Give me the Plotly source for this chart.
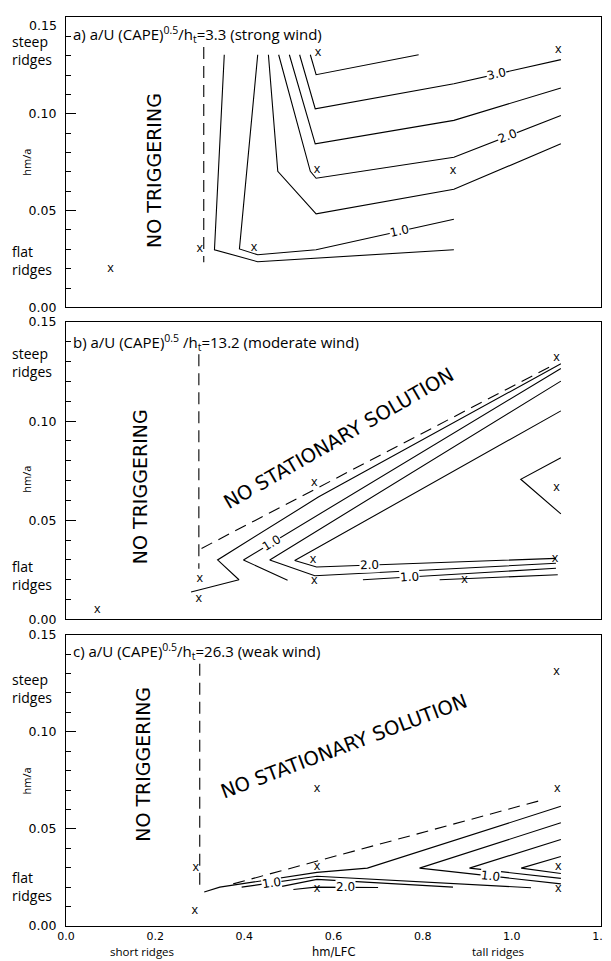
import plotly.graph_objects as go

# ---------------- data ----------------
X_RANGE = [0.0, 1.2]
Y_RANGE = [0.0, 0.15]
Y_TICKS = [0.00, 0.05, 0.10, 0.15]
X_TICKS = [0.0, 0.2, 0.4, 0.6, 0.8, 1.0, 1.2]
X_TICK_LABELS = ["0.0", "0.2", "0.4", "0.6", "0.8", "1.0", "1.2"]
X_SUB_LABELS = ["short ridges", "hm/LFC", "tall ridges"]
X_SUB_POS = [0.171, 0.601, 0.970]

TITLES = [
    "a) a/U (CAPE)<sup>0.5</sup>/h<sub>t</sub>=3.3 (strong wind)",
    "b) a/U (CAPE)<sup>0.5</sup> /h<sub>t</sub>=13.2 (moderate wind)",
    "c) a/U (CAPE)<sup>0.5</sup>/h<sub>t</sub>=26.3 (weak wind)",
]
TITLE_Y = [0.1408, 0.1395, 0.1413]

# panel a: sample points, boundary and contours
A_MARK_X = [0.10, 0.30, 0.422, 0.565, 0.563, 0.868, 1.104]
A_MARK_Y = [0.020, 0.0302, 0.0307, 0.1315, 0.071, 0.0707, 0.1328]
A_VDASH_X = [0.309, 0.309]
A_VDASH_Y = [0.1345, 0.0233]
A_C1_X = [0.355, 0.333, 0.430, 0.870]
A_C1_Y = [0.1305, 0.0298, 0.0236, 0.0298]
A_C2_X = [0.430, 0.389, 0.430, 0.561, 0.870]
A_C2_Y = [0.1305, 0.0302, 0.0272, 0.0298, 0.0455]
A_C3_X = [0.454, 0.475, 0.561, 0.870, 1.110]
A_C3_Y = [0.1305, 0.0703, 0.0483, 0.0610, 0.0845]
A_C4_X = [0.477, 0.548, 0.561, 0.870, 1.110]
A_C4_Y = [0.1305, 0.0703, 0.0667, 0.0776, 0.0991]
A_C5_X = [0.501, 0.559, 0.870, 1.110]
A_C5_Y = [0.1305, 0.0845, 0.0966, 0.1133]
A_C6_X = [0.524, 0.559, 0.870, 1.110]
A_C6_Y = [0.1305, 0.1026, 0.1155, 0.1280]
A_C7_X = [0.548, 0.561, 0.791]
A_C7_Y = [0.1305, 0.1202, 0.1305]
A_LAB_TEXT = ["1.0", "2.0", "3.0"]
A_LAB_X = [0.748, 0.991, 0.965]
A_LAB_Y = [0.0393, 0.0884, 0.1204]
A_LAB_ANG = [-12.6, -21.5, -13.0]

# panel b
B_MARK_X = [0.07, 0.30, 0.298, 0.557, 0.554, 0.557, 0.894, 1.10, 1.10, 1.097]
B_MARK_Y = [0.005, 0.0205, 0.0102, 0.069, 0.0298, 0.0196, 0.0197, 0.132, 0.0665, 0.0307]
B_VDASH_X = [0.298, 0.298]
B_VDASH_Y = [0.1338, 0.0256]
B_DDASH_X = [0.304, 1.096]
B_DDASH_Y = [0.0358, 0.1287]
B_C1_X = [0.2805, 0.388, 0.340, 0.566, 1.110]
B_C1_Y = [0.0138, 0.0200, 0.0300, 0.0617, 0.1290]
B_C2_X = [0.497, 0.398, 1.110]
B_C2_Y = [0.0197, 0.0300, 0.1266]
B_C3_X = [1.110, 0.457, 0.558, 1.099]
B_C3_Y = [0.1202, 0.0300, 0.0220, 0.0283]
B_C4_X = [1.110, 0.513, 0.562, 1.099]
B_C4_Y = [0.1052, 0.0297, 0.0264, 0.0308]
B_C5_X = [0.666, 1.099]
B_C5_Y = [0.0200, 0.0258]
B_C6_X = [0.838, 1.103]
B_C6_Y = [0.0200, 0.0225]
B_C7_X = [1.110, 1.020, 1.110]
B_C7_Y = [0.0815, 0.0707, 0.0532]
B_LAB_TEXT = ["1.0", "2.0", "1.0"]
B_LAB_X = [0.461, 0.681, 0.771]
B_LAB_Y = [0.0386, 0.0274, 0.0214]
B_LAB_ANG = [-31.3, -2.1, -3.4]

# panel c
C_MARK_X = [0.291, 0.289, 0.563, 0.563, 0.563, 1.100, 1.102, 1.104, 1.104]
C_MARK_Y = [0.0298, 0.0079, 0.0707, 0.0303, 0.0190, 0.1307, 0.0707, 0.0303, 0.0190]
C_VDASH_X = [0.300, 0.300]
C_VDASH_Y = [0.135, 0.018]
C_DDASH_X = [0.375, 1.069]
C_DDASH_Y = [0.0217, 0.0649]
C_C1_X = [0.310, 0.345, 0.563, 0.676, 1.110]
C_C1_Y = [0.0175, 0.0200, 0.0276, 0.0298, 0.0616]
C_C2_X = [0.394, 0.497, 0.563, 1.043]
C_C2_Y = [0.0200, 0.0235, 0.0256, 0.0197]
C_C3_X = [0.476, 0.563, 0.868]
C_C3_Y = [0.0200, 0.0240, 0.0200]
C_C4_X = [0.510, 0.560, 0.700]
C_C4_Y = [0.0188, 0.0200, 0.0198]
C_C5_X = [1.110, 0.793, 1.110]
C_C5_Y = [0.0531, 0.0298, 0.0217]
C_C6_X = [1.110, 0.905, 1.110]
C_C6_Y = [0.0445, 0.0298, 0.0245]
C_C7_X = [1.110, 1.021, 1.110]
C_C7_Y = [0.0358, 0.0298, 0.0270]
C_LAB_TEXT = ["1.0", "2.0", "1.0"]
C_LAB_X = [0.461, 0.626, 0.952]
C_LAB_Y = [0.0223, 0.0199, 0.0257]
C_LAB_ANG = [-8.3, 0.0, 6.4]

# region texts
NT_X = [0.196, 0.165, 0.174]
NT_Y = [0.0707, 0.067, 0.0833]
NSS_X = [None, 0.612, 0.623]
NSS_Y = [None, 0.0913, 0.0926]
NSS_ANG = [None, -30.0, -20.7]
STEEP_Y = [0.1325, 0.1295, 0.1225]
FLAT_Y = [0.0244, 0.0222, 0.0201]
HMA_Y = [0.075, 0.0707, 0.0747]

# ---------------- figure ----------------
# The page body has an 8 px margin, so the figure is 8 px smaller than the window
# on each axis and every position below is (page position - 8).
FONT = "Open Sans"
BIG = "DejaVu Sans"
TICKFONT = "DejaVu Sans"
W, H = 603, 953
ML, MR, MT, MB = 57.5, 10, 1, 35
fig = go.Figure()

panels = [
    dict(marks=(A_MARK_X, A_MARK_Y), vdash=(A_VDASH_X, A_VDASH_Y), ddash=None,
         lines=[(A_C1_X, A_C1_Y), (A_C2_X, A_C2_Y), (A_C3_X, A_C3_Y), (A_C4_X, A_C4_Y),
                (A_C5_X, A_C5_Y), (A_C6_X, A_C6_Y), (A_C7_X, A_C7_Y)],
         labs=(A_LAB_TEXT, A_LAB_X, A_LAB_Y, A_LAB_ANG)),
    dict(marks=(B_MARK_X, B_MARK_Y), vdash=(B_VDASH_X, B_VDASH_Y), ddash=(B_DDASH_X, B_DDASH_Y),
         lines=[(B_C1_X, B_C1_Y), (B_C2_X, B_C2_Y), (B_C3_X, B_C3_Y), (B_C4_X, B_C4_Y),
                (B_C5_X, B_C5_Y), (B_C6_X, B_C6_Y), (B_C7_X, B_C7_Y)],
         labs=(B_LAB_TEXT, B_LAB_X, B_LAB_Y, B_LAB_ANG)),
    dict(marks=(C_MARK_X, C_MARK_Y), vdash=(C_VDASH_X, C_VDASH_Y), ddash=(C_DDASH_X, C_DDASH_Y),
         lines=[(C_C1_X, C_C1_Y), (C_C2_X, C_C2_Y), (C_C3_X, C_C3_Y), (C_C4_X, C_C4_Y),
                (C_C5_X, C_C5_Y), (C_C6_X, C_C6_Y), (C_C7_X, C_C7_Y)],
         labs=(C_LAB_TEXT, C_LAB_X, C_LAB_Y, C_LAB_ANG)),
]

domains = [[0.6805, 1.0], [0.3373, 0.6644], [0.0, 0.3206]]
annotations = []
plot_w = W - ML - MR

for i, p in enumerate(panels):
    n = "" if i == 0 else str(i + 1)
    xr, yr = "x" + n, "y" + n
    for lx, ly in p["lines"]:
        fig.add_trace(go.Scatter(x=lx, y=ly, mode="lines", xaxis=xr, yaxis=yr,
                                 line=dict(color="black", width=1.1), hoverinfo="skip"))
    for d in (p["vdash"], p["ddash"]):
        if d is not None:
            fig.add_trace(go.Scatter(x=d[0], y=d[1], mode="lines", xaxis=xr, yaxis=yr,
                                     line=dict(color="black", width=1.1, dash="12px,7px"),
                                     hoverinfo="skip"))
    mx, my = p["marks"]
    fig.add_trace(go.Scatter(x=mx, y=my, mode="text", text=["x"] * len(mx), xaxis=xr, yaxis=yr,
                             textfont=dict(family=FONT, size=12.5, color="black"),
                             textposition="middle center", hoverinfo="skip"))
    t, lx, ly, la = p["labs"]
    for k in range(len(t)):
        annotations.append(dict(x=lx[k], y=ly[k], xref=xr, yref=yr, text=t[k], showarrow=False,
                                textangle=la[k], bgcolor="white", borderpad=0,
                                font=dict(family=TICKFONT, size=12, color="black")))
    annotations.append(dict(x=0.012, y=TITLE_Y[i], xref=xr, yref=yr,
                            text=TITLES[i], showarrow=False, xanchor="left", yanchor="middle",
                            font=dict(family=FONT, size=15, color="black")))
    annotations.append(dict(x=NT_X[i], y=NT_Y[i], xref=xr, yref=yr, text="NO TRIGGERING",
                            showarrow=False, textangle=-90,
                            font=dict(family=BIG, size=19, color="black")))
    if NSS_X[i] is not None:
        annotations.append(dict(x=NSS_X[i], y=NSS_Y[i], xref=xr, yref=yr,
                                text="NO STATIONARY SOLUTION", showarrow=False,
                                textangle=NSS_ANG[i],
                                font=dict(family=BIG, size=19.5, color="black")))
    annotations.append(dict(x=(1.6 - ML) / plot_w, y=STEEP_Y[i], xref="paper", yref=yr,
                            text="steep<br>ridges", showarrow=False, xanchor="left", align="left",
                            font=dict(family=FONT, size=14, color="black")))
    annotations.append(dict(x=(1.6 - ML) / plot_w, y=FLAT_Y[i], xref="paper", yref=yr,
                            text="flat<br>ridges", showarrow=False, xanchor="left", align="left",
                            font=dict(family=FONT, size=14, color="black")))
    annotations.append(dict(x=(8.5 - ML) / plot_w, y=HMA_Y[i], xref="paper", yref=yr, text="hm/a",
                            showarrow=False, textangle=-90,
                            font=dict(family=FONT, size=11, color="black")))

    # top panel: the 0.15 label would sit on the page edge, so it is drawn just below it
    yt = Y_TICKS if i > 0 else Y_TICKS[:-1]
    if i == 0:
        annotations.append(dict(x=-8.5 / plot_w, y=Y_TICKS[-1], xref="paper", yref=yr,
                                text=f"{Y_TICKS[-1]:.2f}", showarrow=False, xanchor="right",
                                yanchor="top", borderpad=0,
                                font=dict(family=TICKFONT, size=12.5, color="black")))

    axis_common = dict(showline=True, linecolor="black", linewidth=1.3, mirror=True,
                       showgrid=False, zeroline=False)
    fig.layout["xaxis" + n] = dict(
        axis_common, range=X_RANGE, domain=[0, 1], anchor=yr,
        tickvals=X_TICKS, ticktext=X_TICK_LABELS,
        showticklabels=(i == 2), ticks="",
        tickfont=dict(family=TICKFONT, size=11, color="black"))
    fig.layout["yaxis" + n] = dict(
        axis_common, range=Y_RANGE, domain=domains[i], anchor=xr,
        tickvals=yt, ticktext=[f"{v:.2f}" for v in yt],
        ticks="inside", ticklen=10, tickwidth=1.1, tickcolor="black",
        ticklabelstandoff=6,
        minor=dict(dtick=0.01, ticks="inside", ticklen=5, tickwidth=1.1, tickcolor="black"),
        tickfont=dict(family=TICKFONT, size=12.5, color="black"))

# row of descriptive labels under the bottom axis, resting on the page edge
sub_y = -(MB - 0.3) / (H - MT - MB)
for txt, xv in zip(X_SUB_LABELS, X_SUB_POS):
    annotations.append(dict(x=xv, y=sub_y, xref="x3", yref="paper", text=txt, showarrow=False,
                            yanchor="bottom", borderpad=0,
                            font=dict(family=TICKFONT if txt == "hm/LFC" else FONT,
                                      size=11.5, color="black")))

fig.update_layout(width=W, height=H, margin=dict(l=ML, r=MR, t=MT, b=MB),
                  paper_bgcolor="white", plot_bgcolor="white", showlegend=False,
                  annotations=annotations)
fig.write_html("out.html")
